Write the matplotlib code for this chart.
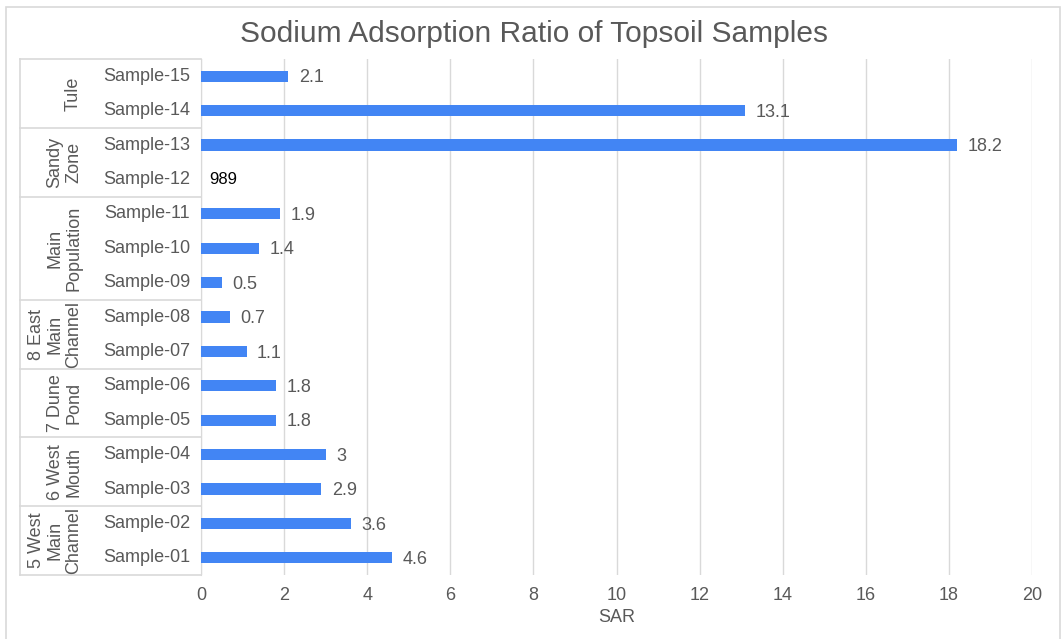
import matplotlib.pyplot as plt
from matplotlib.patches import Rectangle
from matplotlib.lines import Line2D

plt.rcParams['font.family'] = ['Liberation Sans', 'DejaVu Sans']

# ---------- data (bottom to top) ----------
samples = ["Sample-01", "Sample-02", "Sample-03", "Sample-04", "Sample-05",
           "Sample-06", "Sample-07", "Sample-08", "Sample-09", "Sample-10",
           "Sample-11", "Sample-12", "Sample-13", "Sample-14", "Sample-15"]
sar = [4.6, 3.6, 2.9, 3.0, 1.8, 1.8, 1.1, 0.7, 0.5, 1.4, 1.9, None, 18.2, 13.1, 2.1]
value_labels = ["4.6", "3.6", "2.9", "3", "1.8", "1.8", "1.1", "0.7", "0.5", "1.4",
                "1.9", "989", "18.2", "13.1", "2.1"]
groups = ["5 West\nMain\nChannel", "6 West\nMouth", "7 Dune\nPond",
          "8 East\nMain\nChannel", "Main\nPopulation", "Sandy\nZone", "Tule"]
group_sizes = [2, 2, 2, 2, 3, 2, 2]
xticks = [0, 2, 4, 6, 8, 10, 12, 14, 16, 18, 20]

BLUE = "#4285F4"
GREY = "#595959"
LINE = "#d9d9d9"
FS = 13

W, H = 1063, 639
fig = plt.figure(figsize=(W / 100, H / 100), dpi=100)

# chart border
fig.patches.append(Rectangle((6 / W, -0.05), (1060 - 6) / W, 1.05 - 7 / H,
                             transform=fig.transFigure, fill=False,
                             edgecolor=LINE, linewidth=1.2))

left, right, top, bottom = 201, 1032, 59, 575
ax = fig.add_axes([left / W, 1 - bottom / H, (right - left) / W, (bottom - top) / H])

ypos = list(range(len(samples)))
for y, v, lab in zip(ypos, sar, value_labels):
    if v is None:
        ax.text(0.2, y, lab, color="black", fontsize=12, va="center", ha="left")
        continue
    ax.barh(y, v, height=0.33, color=BLUE, zorder=3)
    ax.text(v + 0.25, y - 0.05, lab, color=GREY, fontsize=FS, va="center", ha="left")

ax.set_xlim(0, 20)
ax.set_ylim(-0.5, len(samples) - 0.5)
ax.set_xticks(xticks)
ax.set_xticklabels([str(t) for t in xticks], color=GREY, fontsize=FS)
ax.tick_params(axis="x", length=0, pad=9)
ax.grid(axis="x", color=LINE, linewidth=1, zorder=0)
ax.set_yticks([])
for s in ["top", "right", "bottom"]:
    ax.spines[s].set_visible(False)
ax.spines["left"].set_color(LINE)
ax.set_xlabel("SAR", color=GREY, fontsize=FS, labelpad=3)

# sample labels
aw = right - left
def ax_x(px):
    return (px - left) / aw

tr = ax.get_yaxis_transform()
for y, s in zip(ypos, samples):
    ax.text(ax_x(190), y, s, transform=tr, ha="right", va="center",
            color=GREY, fontsize=FS)

# group table
x0 = ax_x(20)
ax.add_line(Line2D([x0, 0], [len(samples) - 0.5] * 2, transform=tr,
                   color=LINE, linewidth=1.2, clip_on=False))
ax.add_line(Line2D([x0, x0], [-0.5, len(samples) - 0.5], transform=tr,
                   color=LINE, linewidth=1.2, clip_on=False))
start = 0
for g, n in zip(groups, group_sizes):
    ax.add_line(Line2D([x0, 0], [start - 0.5] * 2, transform=tr,
                       color=LINE, linewidth=1.2, clip_on=False))
    mid = start + (n - 1) / 2
    ax.text(ax_x(82), mid, g, transform=tr, rotation=90, ha="right", va="center",
            multialignment="center", color=GREY, fontsize=FS, linespacing=1.1)
    start += n

fig.text(534 / W, 1 - 34 / H, "Sodium Adsorption Ratio of Topsoil Samples",
         ha="center", va="center", color=GREY, fontsize=21.5)

fig.savefig("out.png", dpi=100)
